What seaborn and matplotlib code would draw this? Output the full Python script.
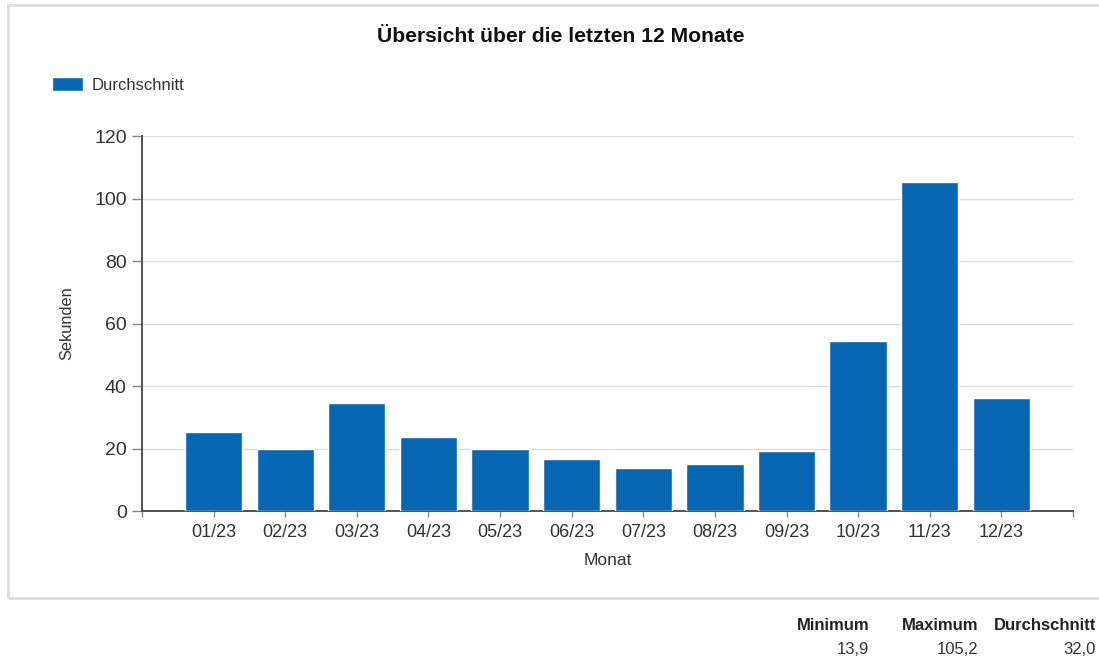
import numpy as np
import pandas as pd
import matplotlib
matplotlib.use("Agg")
import matplotlib.pyplot as plt
import seaborn as sns
from matplotlib.patches import Rectangle

# data
monate = ["01/23", "02/23", "03/23", "04/23", "05/23", "06/23",
          "07/23", "08/23", "09/23", "10/23", "11/23", "12/23"]
durchschnitt = [25.3, 19.8, 34.6, 23.7, 19.8, 16.6,
                13.9, 15.0, 19.2, 54.4, 105.2, 36.2]

df = pd.DataFrame({"Monat": monate, "Sekunden": durchschnitt})

sns.set_style("white")
plt.rcParams['font.family'] = ['Liberation Sans', 'DejaVu Sans']

blau = "#0867b2"
fig = plt.figure(figsize=(10.99, 6.58), dpi=100)
ax = fig.add_axes([0.1292, 0.2234, 0.8471, 0.5699])

sns.barplot(data=df, x="Monat", y="Sekunden", color=blau, width=0.8,
            saturation=1, label="Durchschnitt", ax=ax, zorder=3)

ax.set_xlim(-1, len(monate))
ax.set_ylim(0, 120)
ax.set_yticks(range(0, 121, 20))
ax.yaxis.grid(True, color="#dddddd", linewidth=1, zorder=0)
ax.set_axisbelow(True)
ax.set_xticks([-1, len(monate)], minor=True)

for s in ["top", "right"]:
    ax.spines[s].set_visible(False)
for s in ["left", "bottom"]:
    ax.spines[s].set_color("#444444")
    ax.spines[s].set_linewidth(1.3)

ax.tick_params(axis="y", which="both", left=True, length=7, width=1,
               color="#888888", labelsize=14, labelcolor="#333333", pad=4)
ax.tick_params(axis="x", which="both", bottom=True, length=4, width=1,
               color="#888888", labelsize=13, labelcolor="#333333", pad=5)

ax.set_xlabel("Monat", fontsize=12.5, color="#333333", labelpad=9)
ax.set_ylabel("Sekunden", fontsize=11.8, color="#333333", labelpad=14)

fig.text(0.51, 1 - 37 / 658, "Übersicht über die letzten 12 Monate",
         ha="center", va="center", fontsize=15.2, fontweight="bold",
         color="#111111")

ax.legend(loc="center left", bbox_to_anchor=(0.0473, 1 - 85 / 658),
          bbox_transform=fig.transFigure, frameon=False, fontsize=12,
          borderpad=0, borderaxespad=0,
          handlelength=1.85, handleheight=0.85, handletextpad=0.55,
          labelcolor="#333333")

# light frame round the chart
fig.patches.append(Rectangle((0.007, 0.091), 0.995, 0.902, transform=fig.transFigure,
                             fill=False, edgecolor="#dddddd", linewidth=2))

# statistics below the frame
fmt = lambda v: f"{v:.1f}".replace(".", ",")
stats = [("Minimum", min(durchschnitt), 869 / 1099),
         ("Maximum", max(durchschnitt), 978 / 1099),
         ("Durchschnitt", np.mean(durchschnitt), 1096 / 1099)]
for name, val, xr in stats:
    fig.text(xr, 1 - 626 / 658, name, ha="right", va="center", fontsize=12,
             fontweight="bold", color="#222222")
    fig.text(xr, 1 - 650 / 658, fmt(val), ha="right", va="center", fontsize=12,
             color="#333333")

fig.savefig("out.png", dpi=100)
